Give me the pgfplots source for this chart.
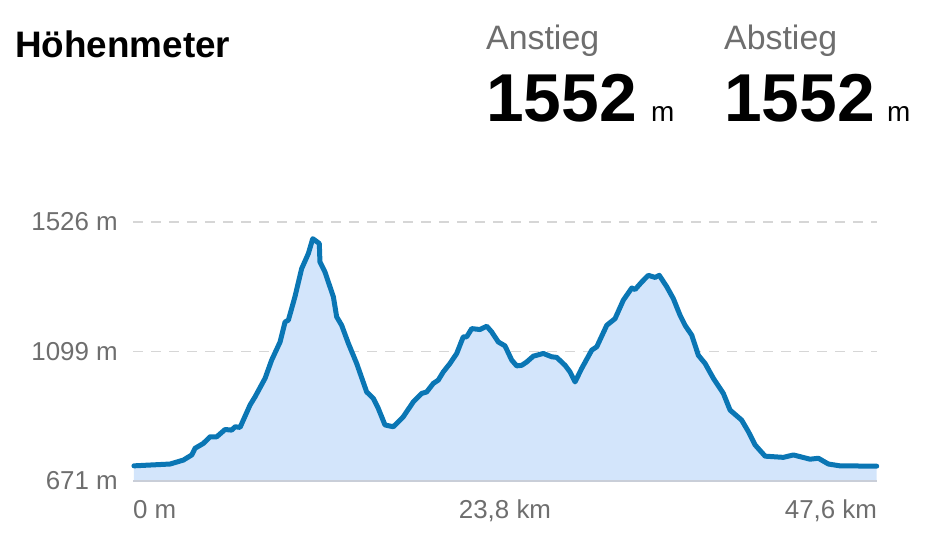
\documentclass[border=0pt]{standalone}
\usepackage{pgfplots}
\pgfplotsset{compat=1.18}
\usepackage{pgfplotstable}
\usepackage{fontspec}
\setmainfont{Liberation Sans}
\definecolor{linec}{HTML}{0A76B4}
\definecolor{fillc}{HTML}{D3E5FB}
\definecolor{txtg}{HTML}{6E6E6E}
\definecolor{gridc}{HTML}{D6D6D6}
\definecolor{basec}{HTML}{C9CED8}
\pgfplotstableread{
x y
0.06 721
2.37 727
3.22 740
3.76 757
3.97 779
4.50 795
4.93 817
5.36 817
5.89 841
6.31 839
6.53 850
6.85 848
7.49 922
7.81 949
8.45 1010
8.87 1070
9.41 1130
9.73 1196
9.94 1202
10.36 1279
10.79 1372
11.22 1422
11.50 1471
11.92 1455
11.96 1394
12.28 1361
12.82 1279
13.03 1213
13.35 1185
13.78 1125
14.31 1059
14.95 965
15.37 944
15.69 911
16.12 856
16.65 850
17.08 872
17.29 883
17.93 932
18.47 960
18.79 965
19.21 993
19.53 1004
19.85 1031
20.28 1059
20.71 1092
21.13 1147
21.35 1147
21.67 1174
22.20 1171
22.63 1182
22.95 1163
23.37 1130
23.80 1117
24.23 1070
24.55 1051
24.87 1053
25.19 1064
25.61 1083
26.25 1092
26.79 1081
27.11 1079
27.64 1053
27.96 1031
28.28 998
28.71 1043
29.35 1103
29.67 1114
30.31 1185
30.84 1207
31.37 1268
31.91 1308
32.12 1303
32.55 1328
32.97 1350
33.40 1343
33.67 1350
34.15 1312
34.57 1273
35.00 1218
35.32 1185
35.75 1152
36.17 1086
36.60 1059
37.13 1010
37.77 960
38.20 905
38.94 872
39.37 834
39.80 790
40.44 753
41.61 749
42.25 757
43.31 743
43.85 746
44.49 727
45.23 721
47.58 720
}\elev
\begin{document}
\begin{tikzpicture}[x=1bp,y=1bp]
\useasboundingbox (0,0) rectangle (948,543);
% header
\node[anchor=base west,inner sep=0pt,font=\fontsize{37}{40}\selectfont\bfseries] at (15,485) {Höhenmeter};
\node[anchor=base west,inner sep=0pt,text=txtg,font=\fontsize{34}{36}\selectfont] at (486,493) {Anstieg};
\node[anchor=base west,inner sep=0pt,text=txtg,font=\fontsize{34}{36}\selectfont] at (724,493) {Abstieg};
\node[anchor=base west,inner sep=0pt,font=\fontsize{68}{72}\selectfont\bfseries] at (486,421) {1552};
\node[anchor=base west,inner sep=0pt,font=\fontsize{28}{30}\selectfont] at (651,421) {m};
\node[anchor=base west,inner sep=0pt,font=\fontsize{68}{72}\selectfont\bfseries] at (724,421) {1552};
\node[anchor=base west,inner sep=0pt,font=\fontsize{28}{30}\selectfont] at (887,421) {m};
\begin{axis}[
  at={(133bp,62bp)}, anchor=south west,
  scale only axis, width=744bp, height=259bp,
  xmin=0, xmax=47.6, ymin=671, ymax=1526,
  clip=false,
  axis line style={draw=none},
  major tick length=0pt,
  ytick={671,1099,1526},
  yticklabels={671 m,1099 m,1526 m},
  xtick={0,23.8,47.6},
  xticklabels={\makebox[0pt][l]{0 m},23{,}8 km,\makebox[0pt][r]{47{,}6 km}},
  ymajorgrids,
  grid style={gridc, line width=1.2bp, dash pattern=on 10bp off 8bp},
  yticklabel style={font=\fontsize{26}{28}\selectfont, text=txtg, inner sep=0pt, xshift=-15bp},
  xticklabel style={font=\fontsize{26}{28}\selectfont, text=txtg, inner sep=0pt, yshift=-19bp},
]
\addplot[draw=none, fill=fillc] table[x=x,y=y] {\elev} \closedcycle;
\draw[basec, line width=1.5bp] (axis cs:0,671) -- (axis cs:47.6,671);
\addplot[linec, line width=5bp, line join=round, line cap=round] table[x=x,y=y] {\elev};
\end{axis}
\end{tikzpicture}
\end{document}
